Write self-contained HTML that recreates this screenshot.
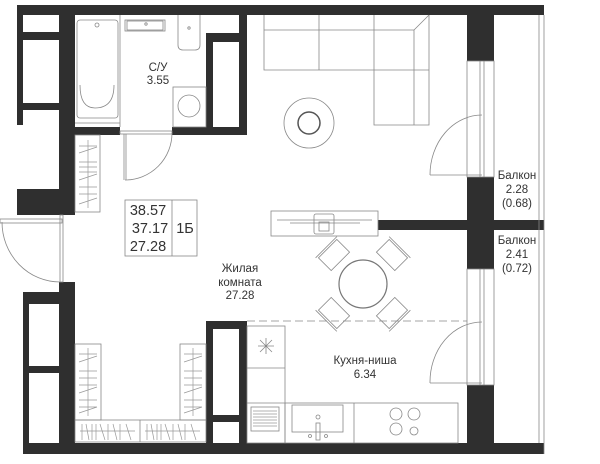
<!DOCTYPE html>
<html><head><meta charset="utf-8"><style>
html,body{margin:0;padding:0;background:#fff;}
svg{display:block;}
text{font-family:"Liberation Sans",sans-serif;fill:#333;}
</style></head><body>
<svg width="600" height="464" viewBox="0 0 600 464" xmlns="http://www.w3.org/2000/svg">
<g fill="#2f2f2f">
<rect x="17" y="5" width="527" height="10"/>
<rect x="17" y="5" width="6" height="120"/>
<rect x="59" y="5" width="16" height="210"/>
<rect x="17" y="32" width="42" height="8"/>
<rect x="17" y="103" width="42" height="7"/>
<rect x="17" y="189" width="58" height="26"/>
<rect x="59" y="127" width="61" height="8"/>
<rect x="172" y="127" width="75" height="8"/>
<rect x="206" y="33" width="7" height="102"/>
<rect x="206" y="33" width="33" height="9"/>
<rect x="239" y="14" width="8" height="121"/>
<rect x="59" y="282" width="16" height="172"/>
<rect x="23" y="292" width="52" height="12"/>
<rect x="23" y="292" width="6" height="162"/>
<rect x="23" y="366" width="36" height="7"/>
<rect x="23" y="443" width="521" height="11"/>
<rect x="206" y="321" width="41" height="122"/>
<rect x="467" y="14" width="27" height="47"/>
<rect x="467" y="177" width="27" height="92"/>
<rect x="378" y="220" width="166" height="10"/>
<rect x="467" y="385" width="27" height="58"/>
</g>
<g fill="#fff">
<rect x="213" y="329" width="26" height="86"/>
<rect x="213" y="422" width="26" height="21"/>
</g>
<g fill="none" stroke="#888" stroke-width="0.8">
<line x1="539" y1="15" x2="539" y2="443"/>
<line x1="544" y1="15" x2="544" y2="454"/>
<rect x="467" y="61" width="27" height="116"/>
<line x1="480" y1="61" x2="480" y2="177"/><line x1="484" y1="61" x2="484" y2="177"/>
<rect x="467" y="269" width="27" height="116"/>
<line x1="480" y1="269" x2="480" y2="385"/><line x1="484" y1="269" x2="484" y2="385"/>
<path d="M430 175 A52 60 0 0 1 482 115"/><line x1="430" y1="175" x2="482" y2="175"/>
<path d="M430 383 A52 60 0 0 1 482 322"/><line x1="430" y1="383" x2="482" y2="383"/>
<path d="M2 222 A58 60 0 0 0 60 282"/>
<rect x="0" y="219" width="62" height="4"/>
<rect x="60" y="215" width="3" height="67"/>
<rect x="120" y="131" width="52" height="3"/>
<line x1="124" y1="134" x2="124" y2="180"/><line x1="126" y1="134" x2="126" y2="180"/>
<path d="M125 180 A47 47 0 0 0 172 133"/>
<rect x="77" y="20" width="41" height="98" rx="3"/>
<path d="M80 85 Q80 108 95 108 Q114 108 114 85"/>
<circle cx="97" cy="25" r="2"/>
<line x1="75" y1="123" x2="120" y2="123"/>
<line x1="120" y1="15" x2="120" y2="127"/>
<rect x="125" y="20" width="40" height="11"/><rect x="127" y="21" width="36" height="9"/>
<circle cx="146" cy="24" r="1.2"/>
<path d="M178 15 L178 45 Q178 50 183 50 L195 50 Q200 50 200 45 L200 15"/>
<circle cx="189" cy="28" r="1.2"/>
<rect x="173" y="87" width="33" height="40"/>
<circle cx="189" cy="106" r="11"/>
<path d="M264 15 L264 70 L374 70 L374 125 L429 125 L429 15"/>
<line x1="264" y1="30" x2="414" y2="30"/>
<line x1="414" y1="30" x2="429" y2="15"/>
<line x1="414" y1="30" x2="414" y2="125"/>
<line x1="319" y1="15" x2="319" y2="70"/>
<line x1="374" y1="15" x2="374" y2="70"/>
<line x1="374" y1="70" x2="429" y2="70"/>
<circle cx="309" cy="123" r="25"/><circle cx="309" cy="123" r="11" stroke="#555" stroke-width="1.5"/>
<rect x="271" y="211" width="107" height="25"/>
<line x1="277" y1="220" x2="372" y2="220"/><line x1="290" y1="223" x2="360" y2="223"/>
<rect x="314" y="214" width="20" height="20" rx="2"/><rect x="319" y="222" width="10" height="9"/>
<rect x="125" y="200" width="72" height="56"/><line x1="172" y1="200" x2="172" y2="256"/>
<circle cx="363" cy="284" r="24" stroke="#777" stroke-width="1.2"/>
<g transform="translate(363,284)">
<g transform="rotate(45)"><rect x="-13" y="-50" width="26" height="18"/><line x1="-15" y1="-52" x2="15" y2="-52"/></g>
<g transform="rotate(135)"><rect x="-13" y="-50" width="26" height="18"/><line x1="-15" y1="-52" x2="15" y2="-52"/></g>
<g transform="rotate(225)"><rect x="-13" y="-50" width="26" height="18"/><line x1="-15" y1="-52" x2="15" y2="-52"/></g>
<g transform="rotate(315)"><rect x="-13" y="-50" width="26" height="18"/><line x1="-15" y1="-52" x2="15" y2="-52"/></g>
</g>
<line x1="247" y1="321" x2="467" y2="321" stroke-dasharray="8 4"/>
<rect x="247" y="326" width="38" height="117"/>
<line x1="247" y1="368" x2="285" y2="368"/><line x1="247" y1="403" x2="285" y2="403"/>
<rect x="285" y="403" width="173" height="40"/>
<line x1="354" y1="403" x2="354" y2="443"/>
<rect x="292" y="405" width="51" height="27"/>
<circle cx="318" cy="417" r="2"/><rect x="316" y="423" width="4" height="17"/>
<circle cx="310" cy="436" r="1.5"/><circle cx="326" cy="436" r="1.5"/>
<circle cx="396" cy="414" r="6"/><circle cx="414" cy="414" r="6"/><circle cx="396" cy="429" r="6"/><circle cx="414" cy="431" r="4"/>
<rect x="251" y="407" width="28" height="24"/>
<path d="M260 340 L272 352 M272 340 L260 352 M266 338 L266 354 M258 346 L274 346"/>
<rect x="75" y="135" width="25" height="77"/>
<rect x="75" y="344" width="26" height="76"/>
<rect x="180" y="344" width="26" height="76"/>
<rect x="75" y="420" width="131" height="22"/><line x1="140" y1="420" x2="140" y2="442"/>
</g>
<g fill="none" stroke="#999" stroke-width="0.7">
<line x1="88" y1="140" x2="88" y2="208"/>
<line x1="88" y1="348" x2="88" y2="416"/>
<line x1="193" y1="348" x2="193" y2="416"/>
<line x1="80" y1="431" x2="135" y2="431"/><line x1="145" y1="431" x2="200" y2="431"/>
<path d="M79 146h18M79 153l18-6M79 162h18M79 167h18M79 172h18M79 180l18-6M79 187h18M79 194h18M79 204l18-6"/>
<path d="M79 354h18M79 362l18-6M79 371h18M79 378h18M79 385h18M79 393l18-6M79 400h18M79 407h18M79 413l18-6"/>
<path d="M184 354h18M184 362l18-6M184 371h18M184 378h18M184 385h18M184 393l18-6M184 400h18M184 407h18M184 413l18-6"/>
<path d="M82 424v16M86 424l3 16M92 424v16M96 424v16M100 424l5 16M108 424v16M113 424l4 16M120 424v16M126 424l5 16"/>
<path d="M147 424v16M151 424l3 16M157 424v16M161 424v16M165 424l5 16M173 424v16M178 424l4 16M185 424v16M191 424l5 16"/>
<path d="M253 411h24M253 414h24M253 417h24M253 420h24M253 423h24M253 426h24"/>
</g>
<text x="158" y="71" font-size="11.5" text-anchor="middle">С/У</text>
<text x="158" y="84" font-size="11.5" text-anchor="middle">3.55</text>
<text x="148" y="215" font-size="14.5" text-anchor="middle">38.57</text>
<text x="150" y="233" font-size="14.5" text-anchor="middle">37.17</text>
<text x="148" y="251" font-size="14.5" text-anchor="middle">27.28</text>
<text x="185" y="233" font-size="14.5" text-anchor="middle">1Б</text>
<text x="240" y="272" font-size="11.5" text-anchor="middle">Жилая</text>
<text x="240" y="286" font-size="11.5" text-anchor="middle">комната</text>
<text x="240" y="299" font-size="11.5" text-anchor="middle">27.28</text>
<text x="365" y="364" font-size="11.5" text-anchor="middle">Кухня-ниша</text>
<text x="365" y="378" font-size="11.5" text-anchor="middle">6.34</text>
<text x="517" y="179" font-size="11.5" text-anchor="middle">Балкон</text>
<text x="517" y="193" font-size="11.5" text-anchor="middle">2.28</text>
<text x="517" y="207" font-size="11.5" text-anchor="middle">(0.68)</text>
<text x="517" y="244" font-size="11.5" text-anchor="middle">Балкон</text>
<text x="517" y="258" font-size="11.5" text-anchor="middle">2.41</text>
<text x="517" y="272" font-size="11.5" text-anchor="middle">(0.72)</text>
</svg>
</body></html>
